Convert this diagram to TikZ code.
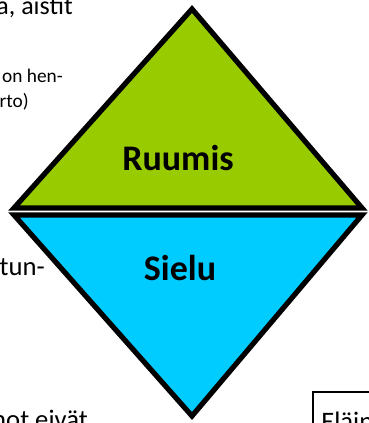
\documentclass[tikz,border=0pt]{standalone}
\usepackage{fontspec}
\setmainfont{Carlito}
\usetikzlibrary{positioning}

\definecolor{ruumisgreen}{HTML}{99CC00}
\definecolor{sielucyan}{HTML}{00CCFF}

\begin{document}
\begin{tikzpicture}[x=0.75pt,y=-0.75pt]
	\tikzset{half/.style={draw=black,line width=3.9pt,line join=miter}}
	\useasboundingbox (0,0) rectangle (368,423);

	    % diamond
	    \coordinate (top) at (192,9);
	    \coordinate (left1) at (14,208);
	    \coordinate (right1) at (362,208);
	    \coordinate (left2) at (14,215);
	    \coordinate (right2) at (362,215);
	    \coordinate (bot) at (192,416);
	    \draw[half,fill=ruumisgreen] (top) -- (left1) -- (right1) -- cycle;
	    \draw[half,fill=sielucyan] (left2) -- (right2) -- (bot) -- cycle;

	    \node (ruumis) at (178,158) {\fontsize{27}{30}\selectfont\bfseries Ruumis};
	    \node (sielu) at (180,268) {\fontsize{27}{30}\selectfont\bfseries Sielu};

	    % text on the left
	    \node[anchor=base east,inner sep=0pt] (t1) at (73,15) {\fontsize{19.5}{22}\selectfont a, aistit};
	    \node[anchor=base east,inner sep=0pt] (t2) at (63,83) {\fontsize{14.5}{17}\selectfont on hen-};
	    \node[anchor=base east,inner sep=0pt] (t3) at (29,108) {\fontsize{14.5}{17}\selectfont rto)};
	    \node[anchor=base east,inner sep=0pt] (t4) at (45,275) {\fontsize{20}{24}\selectfont tun-};
	    \node[anchor=base east,inner sep=0pt] (t5) at (88,428) {\fontsize{20}{24}\selectfont mot eivät};

	    % box
	    \draw[line width=1.6pt] (313,440) |- (380,392);
	    \node[anchor=base west,inner sep=0pt] (elain) at (321,430) {\fontsize{20}{24}\selectfont Eläin};

	\end{tikzpicture}
\end{document}
